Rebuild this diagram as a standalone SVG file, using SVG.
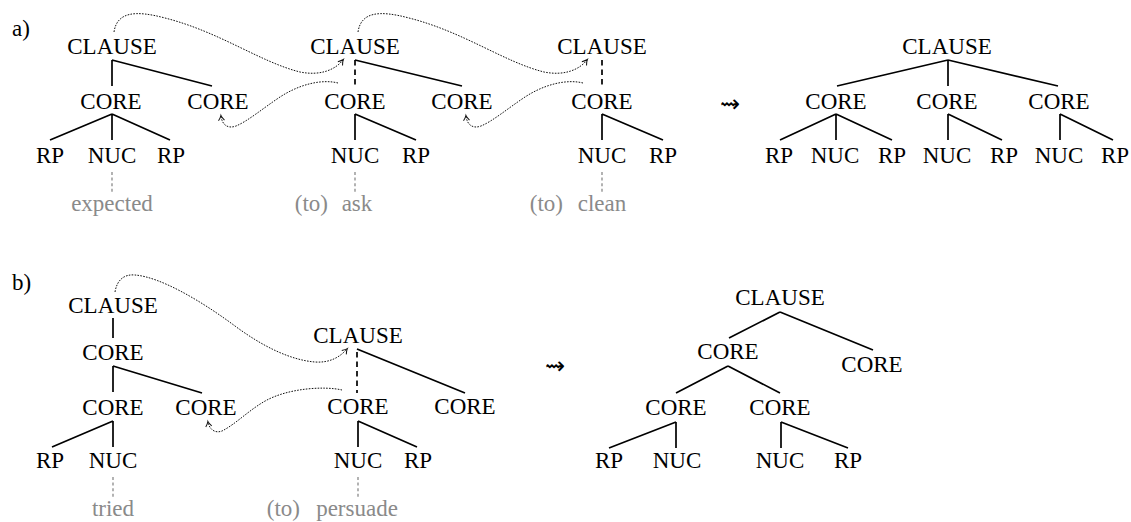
<svg xmlns="http://www.w3.org/2000/svg" width="1131" height="522" viewBox="0 0 1131 522" font-family="'Liberation Serif', 'Times New Roman', serif">
  <defs>
    <style>
      text { font-family: 'Liberation Serif', 'Times New Roman', Times, serif; font-size: 23px; fill: #000; }
      .lbl { text-anchor: middle; }
      .word { fill: #8a8a8a; }
      .mid { text-anchor: middle; }
      .end { text-anchor: end; }
      .edge { stroke: #000; stroke-width: 1.7; fill: none; stroke-linecap: butt; }
      .dash { stroke-dasharray: 5.5 4; }
      .lex { stroke: #8a8a8a; stroke-width: 1.3; stroke-dasharray: 3 2.6; fill: none; }
      .move { stroke: #111; stroke-width: 1; stroke-dasharray: 1.6 1.3; fill: none; marker-end: url(#tip); }
      .leads { font-family: 'DejaVu Sans', sans-serif; font-size: 24px; text-anchor: middle; }
    </style>
    <marker id="tip" markerUnits="userSpaceOnUse" markerWidth="10" markerHeight="10" refX="0" refY="0" orient="auto" overflow="visible">
      <path d="M-4.5,-3 Q-1.5,-0.6 0.6,0 Q-1.5,0.6 -4.5,3" fill="none" stroke="#111" stroke-width="1"/>
    </marker>
  </defs>

  <!-- panel labels -->
  <text x="12" y="36">a)</text>
  <text x="12" y="290">b)</text>

  <!-- ===== panel a ===== -->
  <g id="a-expected">
    <text class="lbl" x="112" y="54">CLAUSE</text>
    <text class="lbl" x="111" y="109">CORE</text>
    <text class="lbl" x="218" y="109">CORE</text>
    <text class="lbl" x="50" y="163">RP</text>
    <text class="lbl" x="112" y="163">NUC</text>
    <text class="lbl" x="171" y="163">RP</text>
    <text class="word mid" x="112" y="211">expected</text>
  </g>
  <g id="a-ask">
    <text class="lbl" x="355" y="54">CLAUSE</text>
    <text class="lbl" x="355" y="109">CORE</text>
    <text class="lbl" x="462" y="109">CORE</text>
    <text class="lbl" x="355" y="163">NUC</text>
    <text class="lbl" x="416" y="163">RP</text>
    <text class="word end" x="328" y="211">(to)</text>
    <text class="word mid" x="357" y="211">ask</text>
  </g>
  <g id="a-clean">
    <text class="lbl" x="602" y="54">CLAUSE</text>
    <text class="lbl" x="602" y="109">CORE</text>
    <text class="lbl" x="602" y="163">NUC</text>
    <text class="lbl" x="663" y="163">RP</text>
    <text class="word end" x="563" y="211">(to)</text>
    <text class="word mid" x="602" y="211">clean</text>
  </g>
  <text class="leads" x="730" y="112">⇝</text>
  <g id="a-result">
    <text class="lbl" x="947" y="54">CLAUSE</text>
    <text class="lbl" x="836" y="109">CORE</text>
    <text class="lbl" x="947" y="109">CORE</text>
    <text class="lbl" x="1059" y="109">CORE</text>
    <text class="lbl" x="779" y="163">RP</text>
    <text class="lbl" x="835" y="163">NUC</text>
    <text class="lbl" x="892" y="163">RP</text>
    <text class="lbl" x="947" y="163">NUC</text>
    <text class="lbl" x="1004" y="163">RP</text>
    <text class="lbl" x="1059" y="163">NUC</text>
    <text class="lbl" x="1115" y="163">RP</text>
  </g>

  <!-- ===== panel b ===== -->
  <g id="b-tried">
    <text class="lbl" x="113" y="313">CLAUSE</text>
    <text class="lbl" x="113" y="360">CORE</text>
    <text class="lbl" x="113" y="415">CORE</text>
    <text class="lbl" x="206" y="415">CORE</text>
    <text class="lbl" x="50" y="468">RP</text>
    <text class="lbl" x="113" y="468">NUC</text>
    <text class="word mid" x="113" y="516">tried</text>
  </g>
  <g id="b-persuade">
    <text class="lbl" x="358" y="343">CLAUSE</text>
    <text class="lbl" x="358" y="414">CORE</text>
    <text class="lbl" x="465" y="414">CORE</text>
    <text class="lbl" x="358" y="468">NUC</text>
    <text class="lbl" x="418" y="468">RP</text>
    <text class="word end" x="300" y="516">(to)</text>
    <text class="word mid" x="357" y="516">persuade</text>
  </g>
  <text class="leads" x="555" y="374">⇝</text>
  <g id="b-result">
    <text class="lbl" x="780" y="305">CLAUSE</text>
    <text class="lbl" x="728" y="359">CORE</text>
    <text class="lbl" x="872" y="372">CORE</text>
    <text class="lbl" x="676" y="415">CORE</text>
    <text class="lbl" x="780" y="415">CORE</text>
    <text class="lbl" x="609" y="468">RP</text>
    <text class="lbl" x="677" y="468">NUC</text>
    <text class="lbl" x="780" y="468">NUC</text>
    <text class="lbl" x="848" y="468">RP</text>
  </g>

  <!-- connectors -->
  <g id="connectors">
    <!-- panel a, tree 1 -->
    <path class="edge" d="M112,60 V86 M112,60 L212,86 M112,114 L50,140 M112,114 V140 M112,114 L170,140"/>
    <path class="lex" d="M112,172 V192"/>
    <!-- panel a, tree 2 -->
    <path class="edge dash" d="M355,60 V87"/>
    <path class="edge" d="M355,60 L462,86 M355,114 V140 M355,114 L416,140"/>
    <path class="lex" d="M355,172 V192"/>
    <!-- panel a, tree 3 -->
    <path class="edge dash" d="M602,60 V87"/>
    <path class="edge" d="M602,114 V140 M602,114 L663,140"/>
    <path class="lex" d="M602,172 V192"/>
    <!-- panel a, result -->
    <path class="edge" d="M948,60 L837,86 M948,60 V86 M948,60 L1058,86 M836,114 L780,140 M836,114 V140 M836,114 L892,140 M948,114 V140 M948,114 L1002,140 M1060,114 V140 M1060,114 L1113,140"/>

    <!-- panel b, tree 1 -->
    <path class="edge" d="M113,318 V338 M113,366 V392 M113,366 L202,393 M113,421 L52,447 M113,421 V447"/>
    <path class="lex" d="M113,477 V497"/>
    <!-- panel b, tree 2 -->
    <path class="edge dash" d="M357,352 V393"/>
    <path class="edge" d="M357,349 L465,393 M358,421 V447 M358,421 L417,447"/>
    <path class="lex" d="M358,477 V497"/>
    <!-- panel b, result -->
    <path class="edge" d="M780,312 L729,338 M780,312 L873,350 M728,366 L676,393 M728,366 L780,393 M676,422 L609,448 M676,422 V448 M781,422 V448 M781,422 L848,448"/>

    <!-- movement arrows -->
    <path class="move" d="M114,32 C117,12 135,10 165,18 C220,32 260,62 300,72 C320,76 335,70 343,60"/>
    <path class="move" d="M338,83 C322,79 300,84 280,97 C262,109 248,121 236,126 C228,129 222,125 221,116"/>
    <path class="move" d="M358,32 C361,12 379,10 409,18 C464,32 504,62 544,72 C564,76 579,70 587,60"/>
    <path class="move" d="M583,83 C567,79 545,84 525,97 C507,109 493,121 481,126 C473,129 467,125 466,116"/>
    <path class="move" d="M115,292 C117,280 124,274 135,275 C160,277 200,300 235,326 C262,346 290,360 315,362 C330,363 340,357 347,349"/>
    <path class="move" d="M342,390 C325,386 290,388 267,400 C250,409 236,424 222,431 C214,434 209,428 208,422"/>
  </g>
</svg>
